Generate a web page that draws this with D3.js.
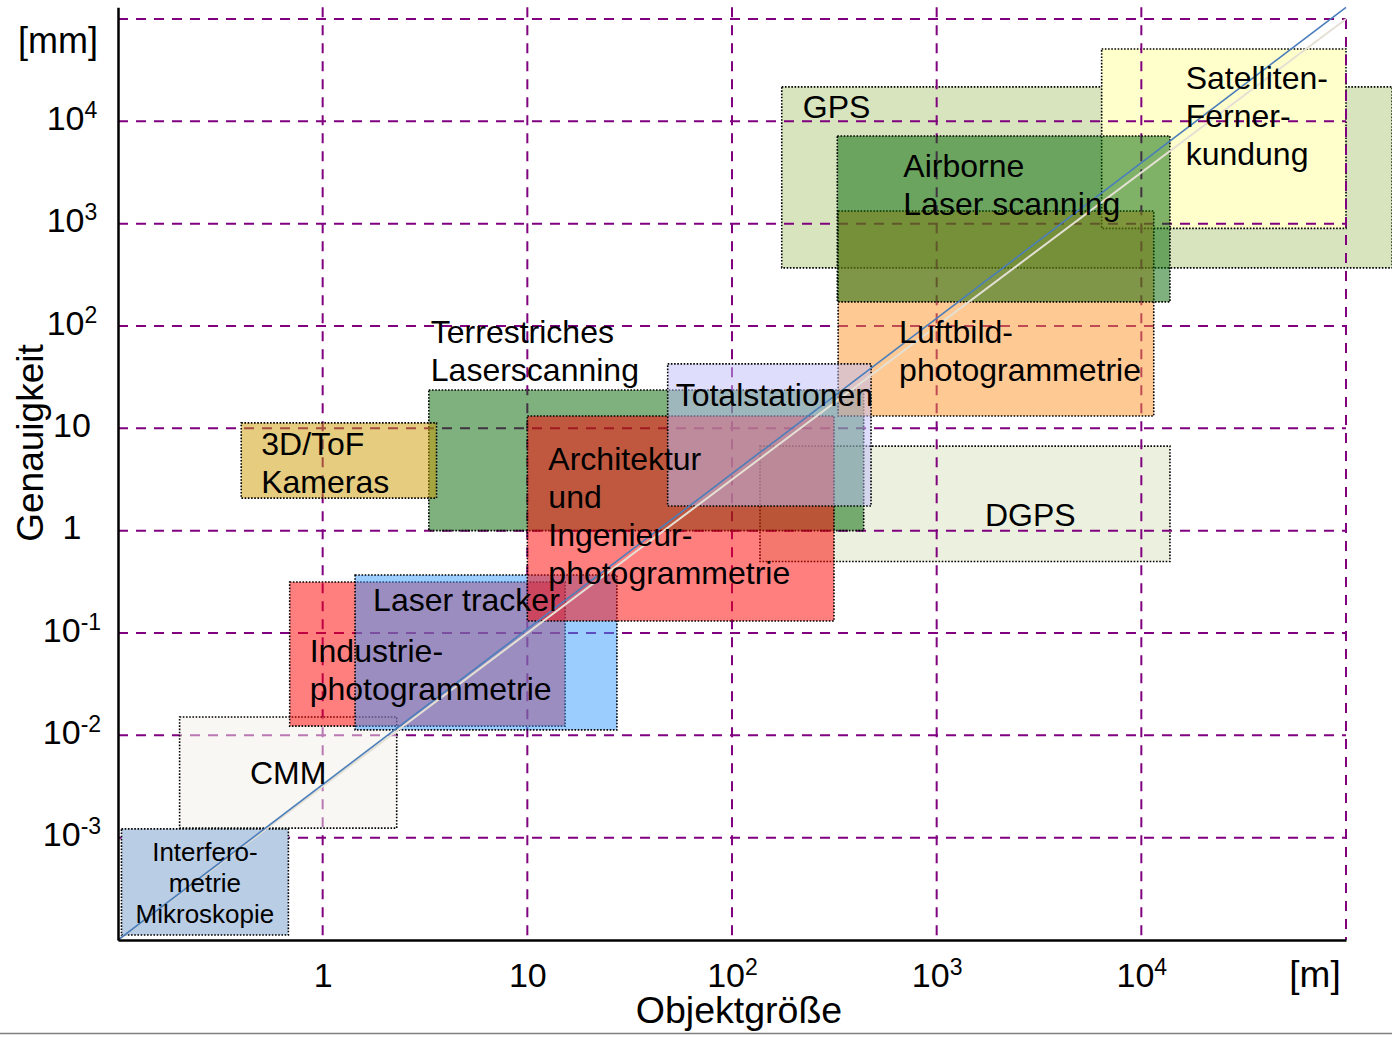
<!DOCTYPE html>
<html>
<head>
<meta charset="utf-8">
<script src="https://cdn.jsdelivr.net/npm/d3@7"></script>
<style>
  body { margin: 0; background: #fff; }
  svg { display: block; }
  text { font-family: "Liberation Sans", Arial, sans-serif; fill: #000; }
</style>
</head>
<body>
<svg id="chart" width="1392" height="1038"></svg>
<script>
// Measurement techniques: object size range [m] and accuracy range [mm].
// Listed in drawing order (back to front).
const techniques = [
  "GPS", "Satelliten-Fernerkundung", "DGPS", "Interferometrie Mikroskopie", "CMM",
  "Terrestriches Laserscanning", "3D/ToF Kameras", "Industriephotogrammetrie",
  "Laser tracker", "Architektur- und Ingenieurphotogrammetrie",
  "Luftbildphotogrammetrie", "Totalstationen", "Airborne Laser scanning"
];
const sizeMin = [175, 6400, 137, 0.104, 0.2, 3.3, 0.4, 0.69, 1.44, 10, 330, 48.5, 327];
const sizeMax = [168000, 100000, 13800, 0.68, 2.3, 440, 3.6, 15.3, 27.4, 315, 11500, 478, 13800];
const accMin  = [370, 900, 0.5, 1.12e-4, 1.24e-3, 1.0, 2.08, 0.0123, 0.0113, 0.131, 13.2, 1.74, 172];
const accMax  = [21700, 51000, 6.7, 1.22e-3, 0.0151, 23.7, 11.3, 0.315, 0.369, 13.2, 1330, 42.6, 7190];
const labelLines = [
  ["GPS"], ["Satelliten-", "Ferner-", "kundung"], ["DGPS"],
  ["Interfero-", "metrie", "Mikroskopie"], ["CMM"],
  ["Terrestriches", "Laserscanning"], ["3D/ToF", "Kameras"],
  ["Industrie-", "photogrammetrie"], ["Laser tracker"],
  ["Architektur", "und", "Ingenieur-", "photogrammetrie"],
  ["Luftbild-", "photogrammetrie"], ["Totalstationen"], ["Airborne", "Laser scanning"]
];

// Axis ticks
const xTickValues = [1, 10, 100, 1000, 10000];
const xTickBase = ["1", "10", "10", "10", "10"];
const xTickExp  = ["", "", "2", "3", "4"];
const yTickValues = [1e-3, 1e-2, 1e-1, 1, 10, 100, 1000, 10000];
const yTickBase = ["10", "10", "10", "1", "10", "10", "10", "10"];
const yTickExp  = ["-3", "-2", "-1", "", "", "2", "3", "4"];
const gridX = [1, 10, 100, 1000, 10000, 100000];
const gridY = [1e-3, 1e-2, 1e-1, 1, 10, 100, 1000, 10000, 100000];
const xTitle = "Objektgröße", xUnit = "[m]";
const yTitle = "Genauigkeit", yUnit = "[mm]";

// Diagonal reference line (size -> accuracy)
const trendSize = [0.1, 100000];
const trendAcc  = [1e-4, 1.3e5];
const shadowAcc = [1e-4, 1e5];

// ---------- layout & styling ----------
const W = 1392, H = 1038;
const x = d3.scaleLog().domain([0.1, 1e5]).range([118, 1346]);
const y = d3.scaleLog().domain([1e-4, 1e5]).range([940, 19]);
const yTop = 1.3e5;                       // axis line runs a bit above the top grid line
const yAxisScale = y.copy().domain([1e-4, yTop]).range([940, y(yTop)]);

const style = {
  "GPS":                         { fill: "#d7e4bd", op: 1,   under: true, dx: 21,  dy: 31 },
  "Satelliten-Fernerkundung":    { fill: "#ffffcc", op: 1,   under: true, dx: 84,  dy: 40 },
  "DGPS":                        { fill: "#ebf1de", op: 1,   under: true, dx: 225, dy: 80 },
  "Interferometrie Mikroskopie": { fill: "#b9cde5", op: 1,   center: true, dy: 32, fs: 26, lh: 31 },
  "CMM":                         { fill: "#f2efe7", op: 0.5, center: true, dy: 67 },
  "Terrestriches Laserscanning": { fill: "#006400", op: 0.5, dx: 2,   dy: -47 },
  "3D/ToF Kameras":              { fill: "#cc9900", op: 0.5, dx: 20,  dy: 32 },
  "Industriephotogrammetrie":    { fill: "#ff0000", op: 0.5, dx: 20,  dy: 80 },
  "Laser tracker":               { fill: "#379bff", op: 0.5, dx: 18,  dy: 36 },
  "Architektur- und Ingenieurphotogrammetrie": { fill: "#ff0000", op: 0.5, dx: 21, dy: 54 },
  "Luftbildphotogrammetrie":     { fill: "#ff9328", op: 0.5, dx: 61,  dy: 132 },
  "Totalstationen":              { fill: "#bebefa", op: 0.5, dx: 8,   dy: 42 },
  "Airborne Laser scanning":     { fill: "#006400", op: 0.5, dx: 66,  dy: 41 }
};

const svg = d3.select("#chart");
svg.append("rect").attr("width", W).attr("height", H).attr("fill", "#fff");

const boxes = techniques.map((name, i) => ({
  name, i,
  x0: sizeMin[i], x1: sizeMax[i], y0: accMin[i], y1: accMax[i],
  lines: labelLines[i], s: style[name]
}));

function drawBoxes(g, list) {
  g.selectAll("rect").data(list).join("rect")
    .attr("x", d => x(d.x0))
    .attr("y", d => y(d.y1))
    .attr("width", d => x(d.x1) - x(d.x0))
    .attr("height", d => y(d.y0) - y(d.y1))
    .attr("fill", d => d.s.fill)
    .attr("fill-opacity", d => d.s.op)
    .attr("stroke", "#000")
    .attr("stroke-width", 1.6)
    .attr("stroke-dasharray", "1.6,1.6");
}

// Opaque background boxes sit below the grid
drawBoxes(svg.append("g"), boxes.filter(d => d.s.under));

// Grid
const grid = svg.append("g")
  .attr("stroke", "#800080").attr("stroke-width", 2).attr("stroke-dasharray", "10,8").attr("fill", "none");
grid.selectAll("line.v").data(gridX).join("line").attr("class", "v")
  .attr("x1", d => x(d)).attr("x2", d => x(d))
  .attr("y1", d => d === 100000 ? y(1e5) : y(yTop)).attr("y2", y(1e-4));
grid.selectAll("line.h").data(gridY).join("line").attr("class", "h")
  .attr("x1", x(0.1)).attr("x2", x(1e5))
  .attr("y1", d => y(d)).attr("y2", d => y(d));

// Remaining (mostly translucent) boxes above the grid
drawBoxes(svg.append("g"), boxes.filter(d => !d.s.under));

// Diagonal reference line with its faint shadow
const line = d3.line().x(d => x(d[0])).y(d => y(d[1]));
svg.append("path")
  .attr("d", line(trendSize.map((s, i) => [s, shadowAcc[i]])))
  .attr("stroke", "#e4e0d4").attr("stroke-width", 2).attr("fill", "none");
svg.append("path")
  .attr("d", line(trendSize.map((s, i) => [s, trendAcc[i]])))
  .attr("stroke", "#4a7ebb").attr("stroke-width", 1.6).attr("fill", "none");

// Axes
const xAxis = svg.append("g").attr("transform", `translate(0,${y(1e-4)})`)
  .call(d3.axisBottom(x).tickValues(xTickValues).tickSize(0).tickSizeOuter(0)
    .tickFormat((d, i) => xTickBase[i]));
xAxis.select(".domain").attr("stroke", "#000").attr("stroke-width", 2.5);
xAxis.selectAll(".tick text")
  .attr("y", 47).attr("dy", null)
  .attr("font-size", 34).attr("font-family", "Liberation Sans, Arial, sans-serif").attr("fill", "#000")
  .each(function (d, i) {
    if (xTickExp[i]) d3.select(this).append("tspan").attr("dy", -12).attr("font-size", 23).text(xTickExp[i]);
  });

const yAxis = svg.append("g").attr("transform", `translate(${x(0.1)},0)`)
  .call(d3.axisLeft(yAxisScale).tickValues(yTickValues).tickSize(0).tickSizeOuter(0)
    .tickFormat((d, i) => yTickBase[i]));
yAxis.select(".domain").attr("stroke", "#000").attr("stroke-width", 2.5);
yAxis.selectAll(".tick text")
  .attr("x", -46).attr("y", 8).attr("dy", null)
  .attr("text-anchor", "middle")
  .attr("font-size", 34).attr("font-family", "Liberation Sans, Arial, sans-serif").attr("fill", "#000")
  .each(function (d, i) {
    if (yTickExp[i]) d3.select(this).append("tspan").attr("dy", -12).attr("font-size", 23).text(yTickExp[i]);
  });

// Units and titles
svg.append("text").attr("x", 58).attr("y", 53).attr("text-anchor", "middle")
  .attr("font-size", 36).text(yUnit);
svg.append("text").attr("x", 1315).attr("y", 987).attr("text-anchor", "middle")
  .attr("font-size", 37).text(xUnit);
svg.append("text").attr("x", 739).attr("y", 1023).attr("text-anchor", "middle")
  .attr("font-size", 37.5).text(xTitle);
svg.append("text").attr("transform", "translate(43,443) rotate(-90)").attr("text-anchor", "middle")
  .attr("font-size", 37).text(yTitle);

// Box labels
const labels = svg.append("g");
boxes.forEach(d => {
  const s = d.s;
  const fs = s.fs || 32, lh = s.lh || 38;
  const lx = s.center ? (x(d.x0) + x(d.x1)) / 2 : x(d.x0) + s.dx;
  const t = labels.append("text")
    .attr("font-size", fs)
    .attr("text-anchor", s.center ? "middle" : "start");
  d.lines.forEach((ln, k) => {
    t.append("tspan").attr("x", lx).attr("y", y(d.y1) + s.dy + k * lh).text(ln);
  });
});

// Bottom separator
svg.append("line").attr("x1", 0).attr("x2", W).attr("y1", 1033.5).attr("y2", 1033.5)
  .attr("stroke", "#7f7f7f").attr("stroke-width", 1.5);
</script>
</body>
</html>
